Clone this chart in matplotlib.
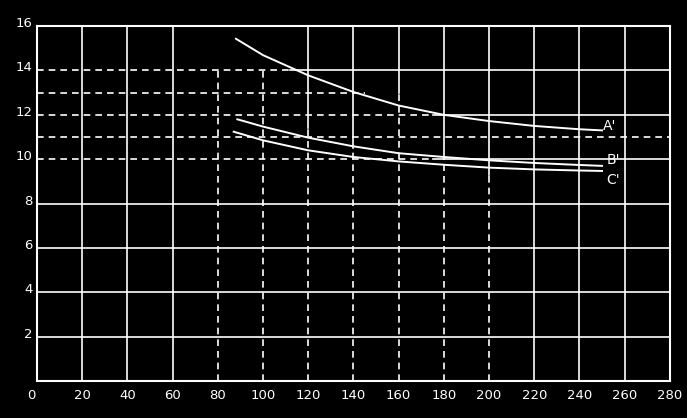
import matplotlib.pyplot as plt
from matplotlib.transforms import ScaledTranslation

# curve data
x_a = [88, 100, 120, 140, 160, 180, 200, 220, 240, 250]
y_a = [15.43, 14.69, 13.78, 13.03, 12.42, 12.0, 11.72, 11.5, 11.35, 11.3]
x_b = [88.6, 100, 120, 140, 160, 180, 200, 220, 240, 250]
y_b = [11.8, 11.47, 10.97, 10.58, 10.27, 10.1, 9.95, 9.83, 9.74, 9.7]
x_c = [87, 100, 120, 140, 160, 180, 200, 220, 240, 250]
y_c = [11.24, 10.85, 10.4, 10.1, 9.9, 9.75, 9.62, 9.54, 9.49, 9.47]
etiquetas = ["A'", "B'", "C'"]
pos_etiq = [(250.5, 11.5), (252, 9.95), (252, 9.05)]

x_ticks = list(range(0, 281, 20))
y_ticks = list(range(0, 17, 2))

fig = plt.figure(figsize=(6.87, 4.18), dpi=100, facecolor='black')
ax = fig.add_axes([0.054, 0.0885, 0.921, 0.849])
ax.set_facecolor('black')
ax.set_xlim(0, 280)
ax.set_ylim(0, 16)

lw = 1.2
tracejado = (0, (4, 3))
# linhas verticais
for xv in x_ticks[1:-1]:
    if xv in (80, 100):
        ax.plot([xv, xv], [0, 14], color='white', lw=lw, ls=tracejado)
    elif 120 <= xv <= 200:
        corte = {120: 11.4, 140: 10.5, 160: 13.0, 180: 10.0, 200: 9.3}[xv]
        ax.plot([xv, xv], [0, corte], color='white', lw=lw, ls=tracejado)
        ax.plot([xv, xv], [corte, 16], color='white', lw=lw)
    else:
        ax.axvline(xv, color='white', lw=lw)

# linhas horizontais
for yv in [2, 4, 6, 8]:
    ax.axhline(yv, color='white', lw=lw)
fins = {10: 175, 11: 280, 12: 175, 13: 145, 14: 112}
for yv, fim in fins.items():
    ax.plot([0, fim], [yv, yv], color='white', lw=lw, ls=tracejado)
    if yv in (10, 12, 14):
        ax.plot([fim, 280], [yv, yv], color='white', lw=lw)

ax.plot(x_a, y_a, color='white', lw=1.4)
ax.plot(x_b, y_b, color='white', lw=1.4)
ax.plot(x_c, y_c, color='white', lw=1.4)
for t, (px, py) in zip(etiquetas, pos_etiq):
    ax.text(px, py, t, color='white', fontsize=10, va='center', ha='left')

for s in ax.spines.values():
    s.set_color('white')
    s.set_linewidth(1.5)

ax.set_xticks(x_ticks)
ax.set_yticks(y_ticks)
ax.tick_params(colors='white', length=0, labelsize=9.5)
ax.tick_params(axis='y', pad=3)
ax.tick_params(axis='x', pad=6)
ax.set_yticklabels([''] + [str(v) for v in y_ticks[1:]])
ax.set_xticklabels([''] + [str(v) for v in x_ticks[1:]])
desloc = ScaledTranslation(0, 4 / 100, fig.dpi_scale_trans)
for lab in ax.get_yticklabels():
    lab.set_transform(lab.get_transform() + desloc)
fig.text(0.040, 0.045, '0', color='white', fontsize=9.5)

fig.savefig('out.png', dpi=100, facecolor='black')
